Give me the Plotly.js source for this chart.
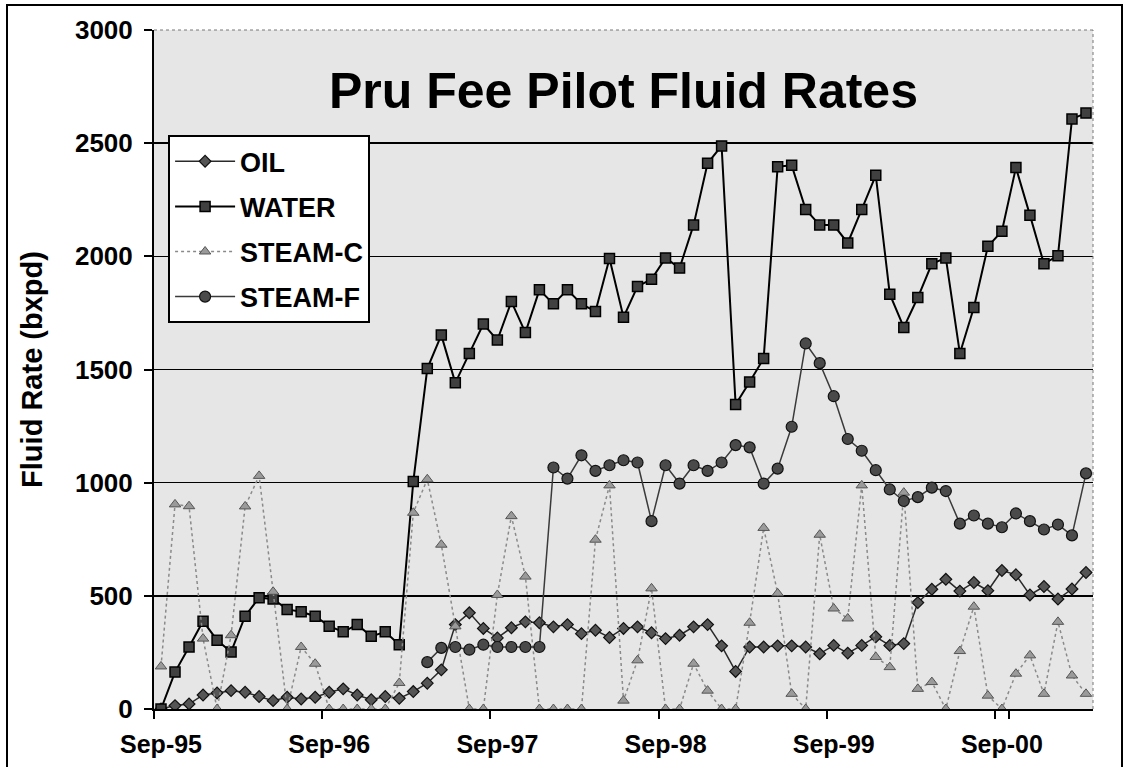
<!DOCTYPE html>
<html>
<head>
<meta charset="utf-8">
<script src="https://cdn.plot.ly/plotly-3.0.1.min.js"></script>
<style>
  html, body { margin: 0; padding: 0; background: #ffffff; }
  #chart { width: 1129px; height: 767px; }
</style>
</head>
<body>
<div id="chart"></div>
<script>
const months = [
  "Sep-95","Oct-95","Nov-95","Dec-95","Jan-96","Feb-96","Mar-96","Apr-96","May-96","Jun-96","Jul-96","Aug-96",
  "Sep-96","Oct-96","Nov-96","Dec-96","Jan-97","Feb-97","Mar-97","Apr-97","May-97","Jun-97","Jul-97","Aug-97",
  "Sep-97","Oct-97","Nov-97","Dec-97","Jan-98","Feb-98","Mar-98","Apr-98","May-98","Jun-98","Jul-98","Aug-98",
  "Sep-98","Oct-98","Nov-98","Dec-98","Jan-99","Feb-99","Mar-99","Apr-99","May-99","Jun-99","Jul-99","Aug-99",
  "Sep-99","Oct-99","Nov-99","Dec-99","Jan-00","Feb-00","Mar-00","Apr-00","May-00","Jun-00","Jul-00","Aug-00",
  "Sep-00","Oct-00","Nov-00","Dec-00","Jan-01","Feb-01","Mar-01"
];
const tickLabels = ["Sep-95","Sep-96","Sep-97","Sep-98","Sep-99","Sep-00"];

const oil = [
  0, 15, 22, 62, 71, 81, 74, 55, 37, 52, 44, 52,
  74, 89, 62, 41, 55, 47, 77, 114, 173, 373, 425, 356,
  314, 359, 385, 381, 363, 373, 333, 348, 316, 356, 363, 337,
  311, 326, 363, 373, 279, 166, 274, 274, 279, 279, 274, 244,
  281, 247, 281, 319, 281, 289, 470, 529, 573, 521, 559, 523,
  612, 593, 504, 541, 486, 530, 603
];
const water = [
  0, 163, 274, 388, 304, 252, 410, 492, 486, 440, 430, 410,
  366, 341, 373, 321, 341, 284, 1005, 1504, 1652, 1441, 1571, 1701,
  1630, 1800, 1663, 1852, 1790, 1852, 1790, 1756, 1990, 1731, 1867, 1899,
  1993, 1948, 2138, 2411, 2488, 1345, 1445, 1549, 2396, 2402, 2207, 2138,
  2138, 2059, 2207, 2358, 1833, 1686, 1818, 1967, 1993, 1571, 1774, 2044,
  2111, 2392, 2182, 1967, 2003, 2607, 2633
];
const steamC = [
  188, 904, 896, 311, 0, 326, 895, 1030, 518, 0, 274, 200,
  0, 0, 0, 0, 0, 115, 867, 1015, 726, 365, 0, 0,
  504, 852, 585, 0, 0, 0, 0, 748, 988, 37, 215, 533,
  0, 0, 200, 81, 0, 0, 381, 800, 511, 67, 0, 770,
  444, 400, 988, 230, 185, 956, 89, 119, 0, 256, 452, 59,
  0, 156, 237, 67, 385, 148, 67
];
const steamF = [
  null, null, null, null, null, null, null, null, null, null, null, null,
  null, null, null, null, null, null, null, 207, 270, 274, 262, 284,
  274, 274, 274, 274, 1067, 1018, 1121, 1052, 1077, 1099, 1089, 830,
  1077, 996, 1077, 1052, 1089, 1166, 1156, 996, 1062, 1247, 1615, 1528,
  1382, 1193, 1141, 1055, 970, 919, 936, 978, 963, 819, 855, 819,
  803, 864, 830, 793, 815, 767, 1041
];

const FONT = "Liberation Sans, Arial, Helvetica, sans-serif";

const traces = [
  {
    name: "OIL", x: months, y: oil, type: "scatter", mode: "lines+markers",
    legendgroup: "g1",
    line: { color: "#2a2a2a", width: 1.5 },
    marker: { symbol: "diamond", size: 9, color: "#555555", line: { color: "#111111", width: 1.2 } }
  },
  {
    name: "WATER", x: months, y: water, type: "scatter", mode: "lines+markers",
    legendgroup: "g2",
    line: { color: "#000000", width: 2 },
    marker: { symbol: "square", size: 10, color: "#404040", line: { color: "#000000", width: 1.5 } }
  },
  {
    name: "STEAM-C", x: months, y: steamC, type: "scatter", mode: "lines+markers",
    legendgroup: "g3",
    line: { color: "#8a8a8a", width: 1.5, dash: "dot" },
    marker: { symbol: "triangle-up", size: 10, color: "#9a9a9a", line: { color: "#555555", width: 1 } }
  },
  {
    name: "STEAM-F", x: months, y: steamF, type: "scatter", mode: "lines+markers",
    legendgroup: "g4",
    connectgaps: false,
    line: { color: "#3a3a3a", width: 1.5 },
    marker: { symbol: "circle", size: 11, color: "#4a4a4a", line: { color: "#111111", width: 1.2 } }
  }
];

const layout = {
  width: 1129, height: 767,
  margin: { l: 154, r: 36, t: 30, b: 58, pad: 0, autoexpand: false },
  paper_bgcolor: "#ffffff",
  plot_bgcolor: "#e6e6e6",
  font: { family: FONT, color: "#000000" },
  showlegend: true,
  title: {
    text: "Pru Fee Pilot Fluid Rates",
    font: { family: FONT, size: 50, weight: "bold", color: "#000000" },
    x: 0.5, xref: "paper", xanchor: "center",
    y: 1 - 90 / 767, yref: "container", yanchor: "middle"
  },
  xaxis: {
    type: "category",
    range: [-0.5, 66.5],
    tickmode: "array",
    tickvals: tickLabels,
    ticktext: tickLabels,
    tickson: "boundaries",
    tickangle: 0,
    automargin: false,
    ticks: "outside", ticklen: 8, tickwidth: 2, tickcolor: "#000000",
    showline: true, linecolor: "#000000", linewidth: 2,
    showgrid: false, zeroline: false,
    ticklabelstandoff: 12,
    tickfont: { family: FONT, size: 25, weight: "bold", color: "#000000" }
  },
  yaxis: {
    range: [0, 3000],
    tickmode: "linear", tick0: 0, dtick: 500,
    automargin: false,
    ticks: "outside", ticklen: 8, tickwidth: 2, tickcolor: "#000000",
    showline: true, linecolor: "#000000", linewidth: 2,
    showgrid: true, gridcolor: "#000000", gridwidth: 1.5,
    zeroline: false,
    ticklabelstandoff: 6,
    tickfont: { family: FONT, size: 26, weight: "bold", color: "#000000" },
    title: {
      text: "Fluid Rate (bxpd)",
      font: { family: FONT, size: 29, weight: "bold", color: "#000000" },
      standoff: 24
    }
  },
  legend: {
    x: 0.015, y: 0.845, xanchor: "left", yanchor: "top",
    bgcolor: "#ffffff", bordercolor: "#000000", borderwidth: 2,
    font: { family: FONT, size: 27, weight: "bold", color: "#000000" },
    itemwidth: 60,
    tracegroupgap: 7,
    traceorder: "grouped"
  },
  shapes: [
    { type: "line", xref: "paper", yref: "paper", x0: 0, x1: 1, y0: 1, y1: 1,
      line: { color: "#777777", width: 1, dash: "dot" } },
    { type: "line", xref: "paper", yref: "paper", x0: 1, x1: 1, y0: 0, y1: 1,
      line: { color: "#777777", width: 1, dash: "dot" } },
    { type: "rect", xref: "paper", yref: "paper",
      x0: (7 - 154) / 939, x1: (1122 - 154) / 939,
      y0: (709 - 800) / 679, y1: (709 - 5) / 679,
      line: { color: "#000000", width: 2 }, fillcolor: "rgba(0,0,0,0)" }
  ]
};

Plotly.newPlot("chart", traces, layout, { displayModeBar: false, staticPlot: true });
</script>
</body>
</html>
